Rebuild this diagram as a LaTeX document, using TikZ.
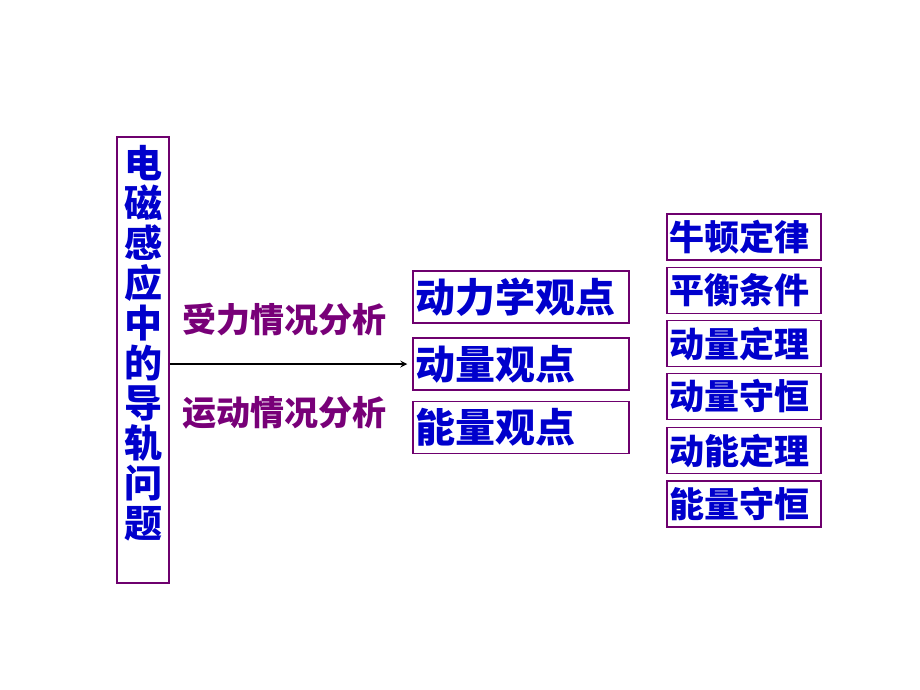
\documentclass[tikz,border=0pt]{standalone}
\usepackage{fontspec}
\newfontfamily\cjk{Noto Sans CJK SC}[UprightFont=* Black]
\definecolor{textblue}{RGB}{0,0,204}
\definecolor{labelpurple}{RGB}{120,0,120}
\definecolor{framepurple}{RGB}{110,0,110}
\begin{document}
\begin{tikzpicture}[x=1pt, y=-1pt,
    title/.style={rectangle, draw=framepurple, line width=1.5pt, text=textblue, font=\cjk\fontsize{38}{40}\selectfont, align=center, text width=40pt, inner xsep=0pt, minimum width=52pt, minimum height=446pt, text depth=397pt},
    view/.style={rectangle, draw=framepurple, line width=1.5pt, text=textblue, font=\cjk\fontsize{40}{40}\selectfont, align=left, text width=212pt, inner xsep=2pt, minimum height=52pt},
    law/.style={rectangle, draw=framepurple, line width=1.5pt, text=textblue, font=\cjk\fontsize{35}{35}\selectfont, align=left, text width=150pt, inner xsep=2pt, minimum height=46pt},
    analysis/.style={text=labelpurple, font=\cjk\fontsize{34}{34}\selectfont},
    arrow/.style={->, >=stealth, line width=2pt, shorten >=5pt}
]
    \useasboundingbox (0,0) rectangle (920,690);

    \node[title] (rail) at (143,360) {电\\磁\\感\\应\\中\\的\\导\\轨\\问\\题};

    \node[analysis] (force) at (284,320) {受力情况分析};
    \node[analysis] (motion) at (284,413) {运动情况分析};

    \node[view] (dyn) at (521,297) {动力学观点};
    \node[view] (mom) at (521,364) {动量观点};
    \node[view] (energy) at (521,427.5) {能量观点};

    \draw[arrow] (rail.east |- mom.west) -- (mom.west);

    \node[law] (newton) at (744,237) {牛顿定律};
    \node[law] (balance) at (744,290.5) {平衡条件};
    \node[law] (momthm) at (744,343.5) {动量定理};
    \node[law] (momcons) at (744,396.5) {动量守恒};
    \node[law] (kinthm) at (744,450.5) {动能定理};
    \node[law] (encons) at (744,504) {能量守恒};
\end{tikzpicture}
\end{document}
